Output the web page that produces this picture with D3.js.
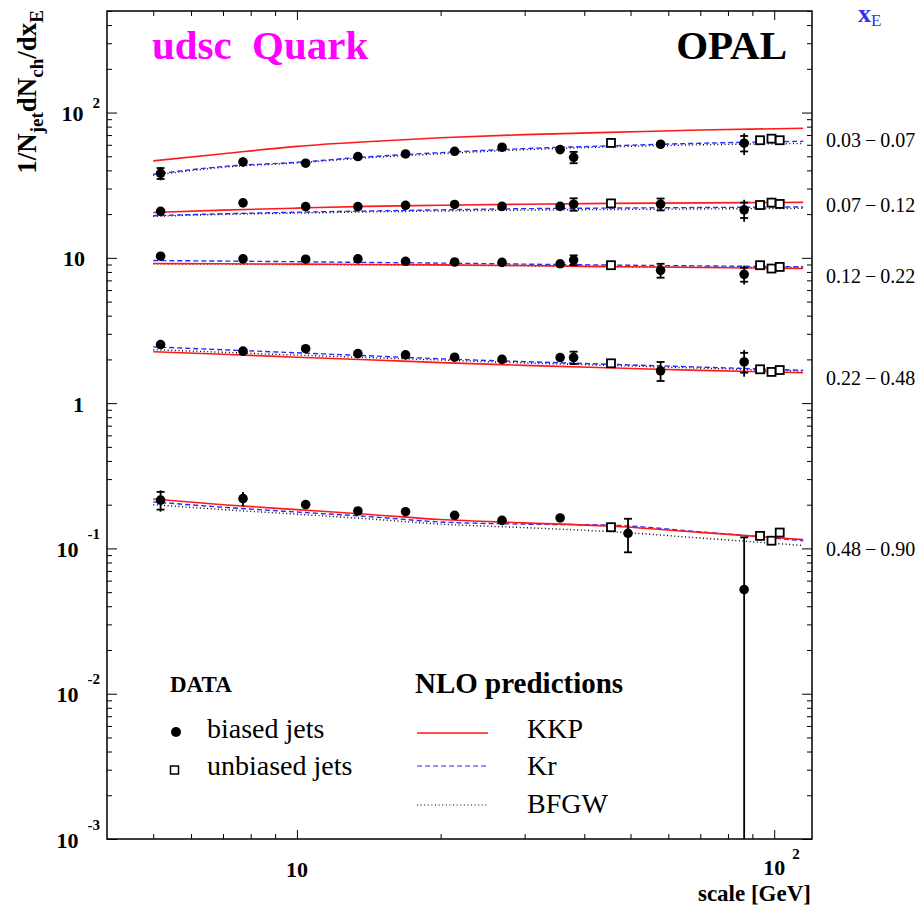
<!DOCTYPE html>
<html>
<head>
<meta charset="utf-8">
<title>udsc Quark - OPAL</title>
<script src="https://d3js.org/d3.v7.min.js"></script>
<style>
  body { margin: 0; background: #fff; }
  svg { display: block; }
</style>
</head>
<body>
<svg id="chart" width="919" height="909" font-family="'Liberation Serif', 'Times New Roman', serif"></svg>
<script>
// scale values [GeV]
var xBiased = [5.18, 7.71, 10.43, 13.42, 16.89, 21.4, 26.9, 35.6, 38.0, 57.8, 86.5];
var xBiasedLast = [5.18, 7.71, 10.43, 13.42, 16.89, 21.4, 26.9, 35.6, 49.4, 86.5];
var xUnbiased = [45.5, 93.4, 98.7, 102.7];
var xModel = [5, 7, 10, 14, 20, 30, 45, 70, 115];

var binLabels = ["0.03", "0.07", "0.12", "0.22", "0.48", "0.90"];

// biased jets, one array per x_E bin
var biased1 = [38.2, 45.7, 44.8, 49.8, 51.9, 54.1, 57.7, 55.6, 49.2, 60.5, 61.5];
var biased2 = [20.9, 23.9, 22.5, 22.5, 23.0, 23.3, 22.6, 22.6, 23.4, 23.4, 21.4];
var biased3 = [10.26, 9.83, 9.79, 9.83, 9.47, 9.36, 9.3, 9.1, 9.65, 8.2, 7.7];
var biased4 = [2.53, 2.28, 2.37, 2.19, 2.15, 2.07, 2.0, 2.06, 2.06, 1.67, 1.92];
var biased5 = [0.215, 0.22, 0.2005, 0.181, 0.179, 0.169, 0.156, 0.162, 0.127, 0.0521];

// total and statistical errors (0 = hidden by the marker)
var errTot1 = [4.0, 3.5, 0, 0, 0, 0, 0, 0, 5.0, 3.0, 10.5];
var errStat1 = [3.3, 0, 0, 0, 0, 0, 0, 0, 4.4, 0, 7.5];
var errTot2 = [0, 0, 0, 0, 0, 0, 0, 0, 2.3, 2.2, 3.7];
var errStat2 = [0, 0, 0, 0, 0, 0, 0, 0, 2.3, 2.2, 2.6];
var errTot3 = [0.5, 0, 0, 0, 0, 0, 0, 0, 0.75, 0.9, 1.15];
var errStat3 = [0, 0, 0, 0, 0, 0, 0, 0, 0.75, 0.9, 0.85];
var errTot4 = [0.1, 0, 0, 0, 0, 0, 0, 0, 0.23, 0.25, 0.4];
var errStat4 = [0, 0, 0, 0, 0, 0, 0, 0, 0.2, 0.25, 0.3];
var errTot5 = [0.036, 0.025, 0, 0, 0, 0, 0, 0, 0.033, 0.067];
var errStat5 = [0.03, 0, 0, 0, 0, 0, 0, 0, 0.033, 0.067];

// unbiased jets
var unbiased1 = [61.8, 64.5, 66.1, 64.5];
var unbiased2 = [23.7, 23.1, 24.0, 23.5];
var unbiased3 = [8.9, 8.9, 8.44, 8.66];
var unbiased4 = [1.88, 1.71, 1.64, 1.69];
var unbiased5 = [0.140, 0.122, 0.113, 0.1286];

// NLO predictions at xModel
var kkp1 = [46.5, 52, 58.5, 63, 67, 70.5, 73, 75.8, 78];
var kkp2 = [20.5, 21.3, 22.0, 22.6, 23.0, 23.4, 23.7, 23.9, 24.1];
var kkp3 = [9.14, 9.1, 9.05, 9.0, 8.95, 8.85, 8.7, 8.58, 8.44];
var kkp4 = [2.26, 2.17, 2.07, 1.99, 1.90, 1.82, 1.75, 1.68, 1.62];
var kkp5 = [0.219, 0.2, 0.185, 0.172, 0.158, 0.150, 0.1426, 0.129, 0.115];
var kr1 = [37.6, 42.5, 45.5, 49.5, 53, 56.5, 59, 61.5, 63.4];
var kr2 = [19.5, 20.1, 20.6, 21.0, 21.4, 21.8, 22.0, 22.2, 22.4];
var kr3 = [9.58, 9.5, 9.4, 9.3, 9.2, 9.05, 8.92, 8.8, 8.68];
var kr4 = [2.44, 2.33, 2.22, 2.12, 2.02, 1.93, 1.85, 1.77, 1.68];
var kr5 = [0.209, 0.192, 0.178, 0.166, 0.152, 0.147, 0.1447, 0.130, 0.113];
var bfgw1 = [37.0, 42, 45, 48.8, 52, 55.5, 58, 60, 61.2];
var bfgw2 = [19.3, 19.9, 20.3, 20.7, 21.0, 21.3, 21.5, 21.7, 21.9];
var bfgw3 = [9.1, 9.05, 9.0, 8.95, 8.9, 8.8, 8.7, 8.62, 8.58];
var bfgw4 = [2.33, 2.24, 2.14, 2.06, 1.98, 1.89, 1.82, 1.74, 1.66];
var bfgw5 = [0.2, 0.185, 0.172, 0.16, 0.147, 0.139, 0.1306, 0.118, 0.1047];

var yTickVals = [1e-3, 1e-2, 1e-1, 1, 10, 100];
var yTickBase = ["10", "10", "10", "1", "10", "10"];
var yTickExp = ["-3", "-2", "-1", "", "", "2"];

var svg = d3.select("#chart"),
    padL = 107, padR = 812, padT = 11, padB = 839;

var x = d3.scaleLog().domain([4, 120]).range([padL, padR]);
var y = d3.scaleLog().domain([1e-3, 500]).range([padB, padT]);

svg.append("rect").attr("width", 919).attr("height", 909).attr("fill", "#fff");

svg.append("clipPath").attr("id", "plotclip")
    .append("rect")
    .attr("x", padL).attr("y", padT)
    .attr("width", padR - padL).attr("height", padB - padT);

var plot = svg.append("g").attr("clip-path", "url(#plotclip)");

var bins = [
    {b: biased1, xs: xBiased, et: errTot1, es: errStat1, u: unbiased1, kkp: kkp1, kr: kr1, bf: bfgw1},
    {b: biased2, xs: xBiased, et: errTot2, es: errStat2, u: unbiased2, kkp: kkp2, kr: kr2, bf: bfgw2},
    {b: biased3, xs: xBiased, et: errTot3, es: errStat3, u: unbiased3, kkp: kkp3, kr: kr3, bf: bfgw3},
    {b: biased4, xs: xBiased, et: errTot4, es: errStat4, u: unbiased4, kkp: kkp4, kr: kr4, bf: bfgw4},
    {b: biased5, xs: xBiasedLast, et: errTot5, es: errStat5, u: unbiased5, kkp: kkp5, kr: kr5, bf: bfgw5}
];

var line = d3.line()
    .x(function(d) { return x(d[0]); })
    .y(function(d) { return y(d[1]); })
    .curve(d3.curveMonotoneX);

function zipModel(vals) {
    return xModel.map(function(v, i) { return [v, vals[i]]; });
}

var styles = [
    {key: "bf", color: "#000", dash: "1,2.6", width: 1.4},
    {key: "kr", color: "#2a2aff", dash: "5,3", width: 1.4},
    {key: "kkp", color: "#ff1a1a", dash: null, width: 1.6}
];

bins.forEach(function(bin) {
    styles.forEach(function(s) {
        plot.append("path")
            .datum(zipModel(bin[s.key]))
            .attr("d", line)
            .attr("fill", "none")
            .attr("stroke", s.color)
            .attr("stroke-width", s.width)
            .attr("stroke-dasharray", s.dash);
    });
});

// error bars + markers
bins.forEach(function(bin) {
    var pts = bin.xs.map(function(v, i) {
        return {x: v, y: bin.b[i], tot: bin.et[i], stat: bin.es[i]};
    });
    var eb = plot.append("g").attr("stroke", "#000").attr("stroke-width", 1.8);
    pts.filter(function(d) { return d.tot > 0; }).forEach(function(d) {
        var lo = d.y - d.tot > 1e-3 ? d.y - d.tot : 1e-4;
        eb.append("line")
            .attr("x1", x(d.x)).attr("x2", x(d.x))
            .attr("y1", y(d.y + d.tot)).attr("y2", y(lo));
        if (d.stat > 0) {
            [d.y + d.stat, d.y - d.stat].forEach(function(v) {
                if (v <= 0) return;
                eb.append("line")
                    .attr("x1", x(d.x) - 4).attr("x2", x(d.x) + 4)
                    .attr("y1", y(v)).attr("y2", y(v));
            });
        }
    });
    plot.append("g").selectAll("circle")
        .data(pts)
        .join("circle")
        .attr("cx", function(d) { return x(d.x); })
        .attr("cy", function(d) { return y(d.y); })
        .attr("r", 4.8)
        .attr("fill", "#000");
    plot.append("g").selectAll("rect")
        .data(xUnbiased.map(function(v, i) { return [v, bin.u[i]]; }))
        .join("rect")
        .attr("x", function(d) { return x(d[0]) - 4; })
        .attr("y", function(d) { return y(d[1]) - 4; })
        .attr("width", 8).attr("height", 8)
        .attr("fill", "#fff")
        .attr("stroke", "#000")
        .attr("stroke-width", 1.8);
});

// frame and ticks (inward on all four sides)
function isMajor(v) {
    var l = Math.log10(v);
    return Math.abs(l - Math.round(l)) < 1e-6;
}
var xt = x.ticks().filter(function(v) { return v > 4; });
var yt = y.ticks();

function tickLines(axis, g, major, minor, sign, attr) {
    g.call(axis);
    g.select(".domain").remove();
    g.selectAll(".tick text").remove();
    g.selectAll(".tick line")
        .attr("stroke", "#000")
        .attr("stroke-width", 1)
        .attr(attr, function(d) { return sign * (isMajor(d) ? major : minor); });
}

tickLines(d3.axisBottom(x).tickValues(xt).tickFormat(""),
    svg.append("g").attr("transform", "translate(0," + padB + ")"), 9, 5, -1, "y2");
tickLines(d3.axisTop(x).tickValues(xt).tickFormat(""),
    svg.append("g").attr("transform", "translate(0," + padT + ")"), 9, 5, 1, "y2");
tickLines(d3.axisLeft(y).tickValues(yt).tickFormat(""),
    svg.append("g").attr("transform", "translate(" + padL + ",0)"), 10, 5, 1, "x2");
tickLines(d3.axisRight(y).tickValues(yt).tickFormat(""),
    svg.append("g").attr("transform", "translate(" + padR + ",0)"), 10, 5, -1, "x2");

svg.append("rect")
    .attr("x", padL).attr("y", padT)
    .attr("width", padR - padL).attr("height", padB - padT)
    .attr("fill", "none").attr("stroke", "#000").attr("stroke-width", 1.5);

// y tick labels
yTickVals.forEach(function(v, i) {
    var t = svg.append("text")
        .attr("y", y(v) + 8.5)
        .attr("text-anchor", "end")
        .attr("font-weight", "bold")
        .attr("font-size", 22);
    if (yTickExp[i]) {
        t.attr("x", 100);
        t.append("tspan").text(yTickBase[i]);
        var rise = yTickExp[i].charAt(0) === "-" ? -18 : -13;
        t.append("tspan").attr("dx", 9).attr("dy", rise)
            .attr("font-size", 15).text(yTickExp[i]);
    } else {
        t.attr("x", yTickBase[i] === "1" ? 84 : 85).text(yTickBase[i]);
    }
});

// x tick labels
svg.append("text")
    .attr("x", x(10)).attr("y", 877)
    .attr("text-anchor", "middle").attr("font-weight", "bold").attr("font-size", 22)
    .text("10");
svg.append("text")
    .attr("x", x(100)).attr("y", 875)
    .attr("text-anchor", "middle").attr("font-weight", "bold").attr("font-size", 22)
    .text("10");
svg.append("text")
    .attr("x", x(100) + 18).attr("y", 859)
    .attr("font-weight", "bold").attr("font-size", 15)
    .text("2");

// axis titles
svg.append("text")
    .attr("x", 811).attr("y", 901)
    .attr("text-anchor", "end").attr("font-weight", "bold").attr("font-size", 23)
    .text("scale [GeV]");

var yt1 = svg.append("text")
    .attr("transform", "translate(36,10) rotate(-90)")
    .attr("text-anchor", "end").attr("font-weight", "bold").attr("font-size", 27);
yt1.append("tspan").text("1/N");
yt1.append("tspan").attr("font-size", 19).attr("dy", 7).text("jet");
yt1.append("tspan").attr("dy", -7).text("dN");
yt1.append("tspan").attr("font-size", 19).attr("dy", 7).text("ch");
yt1.append("tspan").attr("dy", -7).text("/dx");
yt1.append("tspan").attr("font-size", 19).attr("dy", 7).text("E");

// x_E header and bin labels
var xe = svg.append("text").attr("x", 858).attr("y", 22).attr("fill", "#3030ee");
xe.append("tspan").attr("font-weight", "bold").attr("font-size", 26).text("x");
xe.append("tspan").attr("font-size", 17).attr("dy", 4).text("E");

var binCentres = [140, 205, 276, 378, 549];
binCentres.forEach(function(cy, i) {
    svg.append("text")
        .attr("x", 826).attr("y", cy + 7)
        .attr("font-size", 20)
        .text(binLabels[i] + "\u2009\u2212\u2009" + binLabels[i + 1]);
});

// headline texts
svg.append("text")
    .attr("x", 152).attr("y", 59)
    .attr("fill", "#ff00ff").attr("font-weight", "bold").attr("font-size", 41)
    .attr("word-spacing", 10)
    .text("udsc Quark");
svg.append("text")
    .attr("x", 787).attr("y", 59)
    .attr("text-anchor", "end").attr("font-weight", "bold").attr("font-size", 41)
    .text("OPAL");

// legend
var leg = svg.append("g");
leg.append("text").attr("x", 170).attr("y", 692)
    .attr("font-weight", "bold").attr("font-size", 23).text("DATA");
leg.append("circle").attr("cx", 176).attr("cy", 732).attr("r", 5).attr("fill", "#000");
leg.append("text").attr("x", 207).attr("y", 738).attr("font-size", 28).text("biased jets");
leg.append("rect").attr("x", 170.5).attr("y", 766).attr("width", 8).attr("height", 8)
    .attr("fill", "#fff").attr("stroke", "#000").attr("stroke-width", 1.5);
leg.append("text").attr("x", 207).attr("y", 775).attr("font-size", 28).text("unbiased jets");

leg.append("text").attr("x", 415).attr("y", 693)
    .attr("font-weight", "bold").attr("font-size", 29).text("NLO predictions");
var legLines = [
    {y: 733, label: "KKP", ty: 738, s: styles[2]},
    {y: 766, label: "Kr", ty: 775, s: styles[1]},
    {y: 805, label: "BFGW", ty: 813, s: styles[0]}
];
legLines.forEach(function(d) {
    leg.append("line")
        .attr("x1", 417).attr("x2", 488).attr("y1", d.y).attr("y2", d.y)
        .attr("stroke", d.s.color).attr("stroke-width", d.s.key === "kkp" ? 1.6 : 1.1)
        .attr("stroke-dasharray", d.s.dash);
    leg.append("text").attr("x", 527).attr("y", d.ty).attr("font-size", 28).text(d.label);
});
</script>
</body>
</html>
